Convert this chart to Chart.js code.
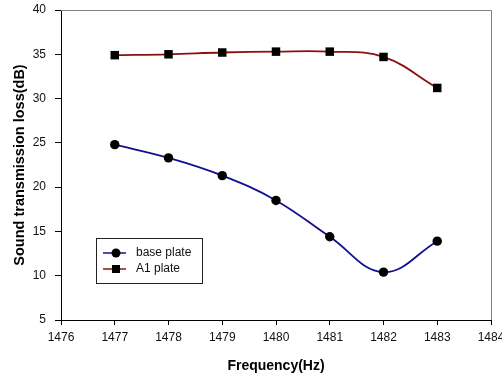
<!DOCTYPE html>
<html>
<head>
<meta charset="utf-8">
<script src="https://cdn.jsdelivr.net/npm/chart.js@4/dist/chart.umd.min.js"></script>
<style>
  html, body { margin: 0; padding: 0; background: #fff; }
  #wrap { width: 502px; height: 375px; }
</style>
</head>
<body>
<div id="wrap"><canvas id="stl" width="502" height="375"></canvas></div>
<script>
// 데이터
const frequency = [1477, 1478, 1479, 1480, 1481, 1482, 1483];
const basePlate = [24.8, 23.3, 21.3, 18.5, 14.4, 10.4, 13.9];
const a1Plate = [34.9, 35.0, 35.2, 35.3, 35.3, 34.7, 31.2];
const xTicks = [1476, 1477, 1478, 1479, 1480, 1481, 1482, 1483, 1484];
const yTicks = [5, 10, 15, 20, 25, 30, 35, 40];

const toPoints = (vals) => frequency.map((f, i) => ({ x: f, y: vals[i] }));

// 위/오른쪽 회색 테두리
const frameBox = {
  id: 'frameBox',
  beforeDatasetsDraw(chart) {
    const { ctx, chartArea: a } = chart;
    ctx.save();
    ctx.strokeStyle = '#808080';
    ctx.lineWidth = 1;
    ctx.beginPath();
    ctx.moveTo(a.left, a.top + 0.5);
    ctx.lineTo(a.right + 0.5, a.top + 0.5);
    ctx.lineTo(a.right + 0.5, a.bottom);
    ctx.stroke();
    ctx.restore();
  }
};

// 플롯 안쪽 범례 상자
const innerLegend = {
  id: 'innerLegend',
  afterDraw(chart) {
    const { ctx } = chart;
    const x = 96, y = 238, w = 106, h = 45;
    ctx.save();
    ctx.fillStyle = '#fff';
    ctx.fillRect(x, y, w, h);
    ctx.strokeStyle = '#222';
    ctx.lineWidth = 1;
    ctx.strokeRect(x + 0.5, y + 0.5, w, h);
    ctx.font = '12px "Liberation Sans", Arial, sans-serif';
    ctx.textBaseline = 'middle';
    chart.data.datasets.forEach((ds, i) => {
      const cy = y + 15 + i * 16;
      ctx.strokeStyle = ds.borderColor;
      ctx.lineWidth = 1.5;
      ctx.beginPath();
      ctx.moveTo(x + 7, cy);
      ctx.lineTo(x + 30, cy);
      ctx.stroke();
      ctx.fillStyle = '#000';
      if (ds.pointStyle === 'rect') {
        ctx.fillRect(x + 16, cy - 4, 8, 8);
      } else {
        ctx.beginPath();
        ctx.arc(x + 20, cy, 4.5, 0, Math.PI * 2);
        ctx.fill();
      }
      ctx.fillStyle = '#111';
      ctx.fillText(ds.label, x + 40, cy);
    });
    ctx.restore();
  }
};

new Chart(document.getElementById('stl'), {
  type: 'line',
  data: {
    datasets: [
      {
        label: 'base plate',
        data: toPoints(basePlate),
        borderColor: '#10108f', // 남색 선
        backgroundColor: '#000',
        pointBackgroundColor: '#000',
        pointBorderColor: '#000',
        pointStyle: 'circle',
        pointRadius: 4.7,
        pointBorderWidth: 0,
        borderWidth: 1.8,
        tension: 0.4,
        fill: false
      },
      {
        label: 'A1 plate',
        data: toPoints(a1Plate),
        borderColor: '#8b1010', // 적갈색 선
        backgroundColor: '#000',
        pointBackgroundColor: '#000',
        pointBorderColor: '#000',
        pointStyle: 'rect',
        pointRadius: 6,
        pointBorderWidth: 0,
        borderWidth: 1.8,
        tension: 0.4,
        fill: false
      }
    ]
  },
  options: {
    responsive: false,
    animation: false,
    layout: { padding: { top: 10, right: 11, left: 0, bottom: 0 } },
    plugins: {
      legend: { display: false },
      tooltip: { enabled: false }
    },
    scales: {
      x: {
        type: 'linear',
        min: 1476,
        max: 1484,
        afterBuildTicks(scale) { scale.ticks = xTicks.map(v => ({ value: v })); },
        afterFit(scale) {
          scale.height = 55;
          scale.paddingLeft = 0;
          scale.paddingRight = 0;
        },
        ticks: {
          color: '#111',
          padding: 5,
          maxRotation: 0,
          callback: (v) => String(v),
          font: { family: '"Liberation Sans", Arial, sans-serif', size: 12 }
        },
        grid: { drawOnChartArea: false, tickLength: 5, color: '#000' },
        border: { color: '#000', width: 1 },
        title: {
          display: true,
          text: 'Frequency(Hz)',
          color: '#000',
          padding: { top: 5, bottom: 0 },
          font: { family: '"Liberation Sans", Arial, sans-serif', size: 14, weight: 'bold' }
        }
      },
      y: {
        min: 5,
        max: 40,
        afterBuildTicks(scale) { scale.ticks = yTicks.map(v => ({ value: v })); },
        afterFit(scale) {
          scale.width = 61;
          scale.paddingTop = 0;
          scale.paddingBottom = 0;
        },
        ticks: {
          color: '#111',
          padding: 9,
          font: { family: '"Liberation Sans", Arial, sans-serif', size: 12 }
        },
        grid: { drawOnChartArea: false, tickLength: 6, color: '#000' },
        border: { color: '#000', width: 1 },
        title: {
          display: true,
          text: 'Sound transmission loss(dB)',
          color: '#000',
          padding: { top: 11, bottom: 0 },
          font: { family: '"Liberation Sans", Arial, sans-serif', size: 14.5, weight: 'bold' }
        }
      }
    }
  },
  plugins: [frameBox, innerLegend]
});
</script>
</body>
</html>
